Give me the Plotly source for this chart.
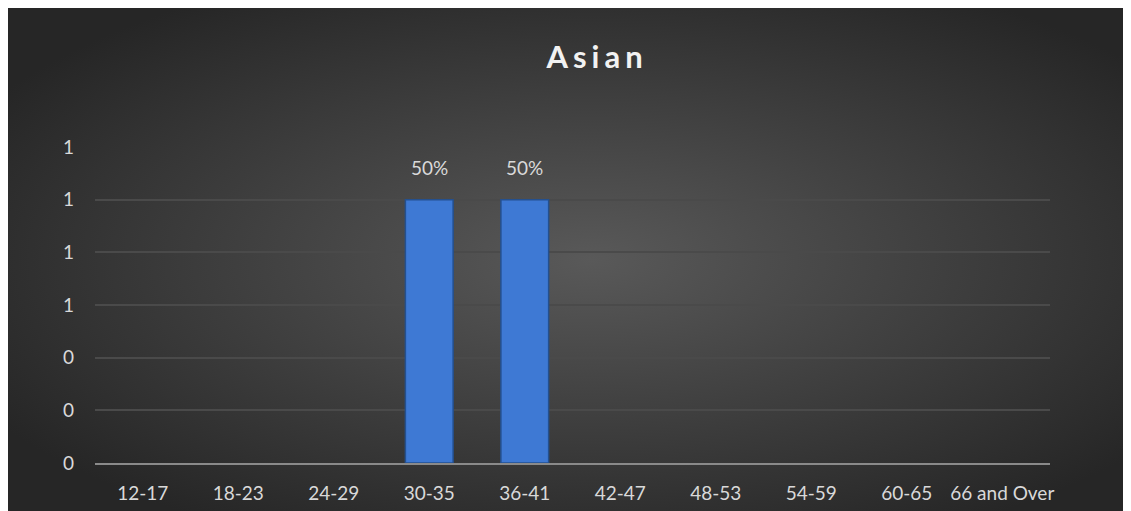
import base64
import plotly.graph_objects as go

categories = ["12-17", "18-23", "24-29", "30-35", "36-41", "42-47", "48-53", "54-59", "60-65", "66 and Over"]
values = [0, 0, 0, 1, 1, 0, 0, 0, 0, 0]
labels = ["", "", "", "50%", "50%", "", "", "", "", ""]
title_text = "Asian"

# the page places the figure 8px in from the top-left corner
W, H = 1131, 511
L, R, T, B = 87, 89, 139, 56
pw, ph = W - L - R, H - T - B

svg = '''<svg xmlns="http://www.w3.org/2000/svg" width="1125" height="503" viewBox="0 0 1125 503">
<defs><radialGradient id="g" cx="52%" cy="50%" r="62%">
<stop offset="0%" stop-color="#595959"/>
<stop offset="100%" stop-color="#262626"/>
</radialGradient></defs>
<rect width="1125" height="503" fill="url(#g)"/></svg>'''
src = "data:image/svg+xml;base64," + base64.b64encode(svg.encode()).decode()

fig = go.Figure()
fig.add_trace(go.Bar(
    x=categories, y=values,
    marker=dict(color="#3e79d4",
                line=dict(color="#24508f", width=[1.5 if v else 0 for v in values])),
    cliponaxis=False,
))

for c, v, t in zip(categories, values, labels):
    if t:
        fig.add_annotation(x=c, y=v, text=t, showarrow=False, yanchor="bottom", yshift=19,
                           font=dict(family="Lato", size=19, color="#d9d9d9"))

fig.update_layout(
    width=W, height=H,
    margin=dict(l=L, r=R, t=T, b=B, pad=0),
    paper_bgcolor="white", plot_bgcolor="rgba(0,0,0,0)",
    bargap=0.5,
    showlegend=False,
    font=dict(family="Lato", size=19, color="#d9d9d9"),
    title=dict(text='<span style="letter-spacing:5px">' + title_text + '</span>',
               font=dict(family="Lato", size=31, color="#f2f2f2", weight="bold"),
               x=589 / W, xref="container", xanchor="center",
               y=1 - 49 / H, yref="container", yanchor="middle"),
    images=[dict(source=src, xref="paper", yref="paper",
                 x=(-2 - L) / pw, y=(H - B) / ph,
                 sizex=1125 / pw, sizey=503 / ph,
                 xanchor="left", yanchor="top", sizing="stretch", layer="below")],
    xaxis=dict(showgrid=False, showline=True, linecolor="#8a8a8a", linewidth=2,
               ticks="", ticklabelstandoff=12, tickfont=dict(size=19, color="#d9d9d9")),
    yaxis=dict(range=[0, 1.2], dtick=0.2, tick0=0, tickformat=".0f",
               showgrid=True, gridcolor="#4a4a4a", gridwidth=1.5, zeroline=False,
               showline=False, ticks="", ticklabelstandoff=20,
               tickfont=dict(size=19, color="#d9d9d9")),
)

fig.write_html("out.html")
